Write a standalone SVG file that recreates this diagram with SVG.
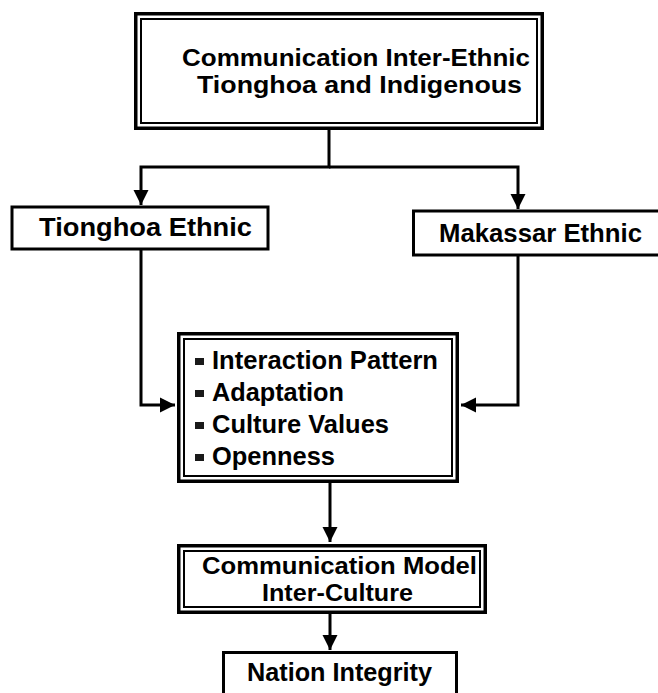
<svg xmlns="http://www.w3.org/2000/svg" width="658" height="693" viewBox="0 0 658 693">
<style>
.t{font-family:"Liberation Sans",Arial,sans-serif;font-weight:bold;font-size:26px;fill:#000}
.s{font-size:23px}
.box{fill:#fff;stroke:#000;stroke-width:3}
.outer{fill:#fff;stroke:#000;stroke-width:3.5}
.inner{fill:none;stroke:#000;stroke-width:2}
.c{fill:none;stroke:#000;stroke-width:3}
.b{fill:#1a1a1a}
</style>
<defs>
<marker id="ah" markerUnits="userSpaceOnUse" markerWidth="16" markerHeight="16" viewBox="0 0 16 16" refX="15" refY="8" orient="auto">
<path d="M0,0.5 L15,8 L0,15.5 Z" fill="#000"/>
</marker>
</defs>
<rect width="658" height="693" fill="#fff"/>
<g id="connectors">
<path class="c" d="M329,130 V167 H141 V205" marker-end="url(#ah)"/>
<path class="c" d="M329,167 H518 V209" marker-end="url(#ah)"/>
<path class="c" d="M141,249 V405 H175" marker-end="url(#ah)"/>
<path class="c" d="M518,255 V405 H461" marker-end="url(#ah)"/>
<path class="c" d="M330,483 V542" marker-end="url(#ah)"/>
<path class="c" d="M330,614 V650" marker-end="url(#ah)"/>
</g>
<g id="top">
<rect class="outer" x="135.75" y="13.75" width="406.5" height="114.5"/>
<rect class="inner" x="141" y="19" width="396" height="104"/>
<text class="t s" x="182" y="66" textLength="348" lengthAdjust="spacingAndGlyphs">Communication Inter-Ethnic</text>
<text class="t s" x="197" y="93" textLength="325" lengthAdjust="spacingAndGlyphs">Tionghoa and Indigenous</text>
</g>
<g id="tionghoa">
<rect class="box" x="12" y="207" width="256" height="42"/>
<text class="t" x="39" y="236" textLength="213" lengthAdjust="spacingAndGlyphs">Tionghoa Ethnic</text>
</g>
<g id="makassar">
<rect class="box" x="413.5" y="211" width="250" height="44"/>
<text class="t" x="439" y="242" textLength="203" lengthAdjust="spacingAndGlyphs">Makassar Ethnic</text>
</g>
<g id="factors">
<rect class="outer" x="178.75" y="333.75" width="278.5" height="147.5"/>
<rect class="inner" x="184" y="339" width="268" height="137"/>
<rect class="b" x="195" y="358" width="9" height="7"/>
<text class="t" x="212" y="369" textLength="226" lengthAdjust="spacingAndGlyphs">Interaction Pattern</text>
<rect class="b" x="195" y="390" width="9" height="7"/>
<text class="t" x="212" y="401" textLength="132" lengthAdjust="spacingAndGlyphs">Adaptation</text>
<rect class="b" x="195" y="422" width="9" height="7"/>
<text class="t" x="212" y="433" textLength="177" lengthAdjust="spacingAndGlyphs">Culture Values</text>
<rect class="b" x="195" y="454" width="9" height="7"/>
<text class="t" x="212" y="465" textLength="123" lengthAdjust="spacingAndGlyphs">Openness</text>
</g>
<g id="model">
<rect class="outer" x="178.75" y="545.75" width="306.5" height="66.5"/>
<rect class="inner" x="184" y="551" width="296" height="56"/>
<text class="t s" x="202" y="574" textLength="275" lengthAdjust="spacingAndGlyphs">Communication Model</text>
<text class="t s" x="262" y="601" textLength="151" lengthAdjust="spacingAndGlyphs">Inter-Culture</text>
</g>
<g id="nation">
<rect class="box" x="223.5" y="652.5" width="233" height="50"/>
<text class="t" x="247" y="681" textLength="185" lengthAdjust="spacingAndGlyphs">Nation Integrity</text>
</g>
</svg>
